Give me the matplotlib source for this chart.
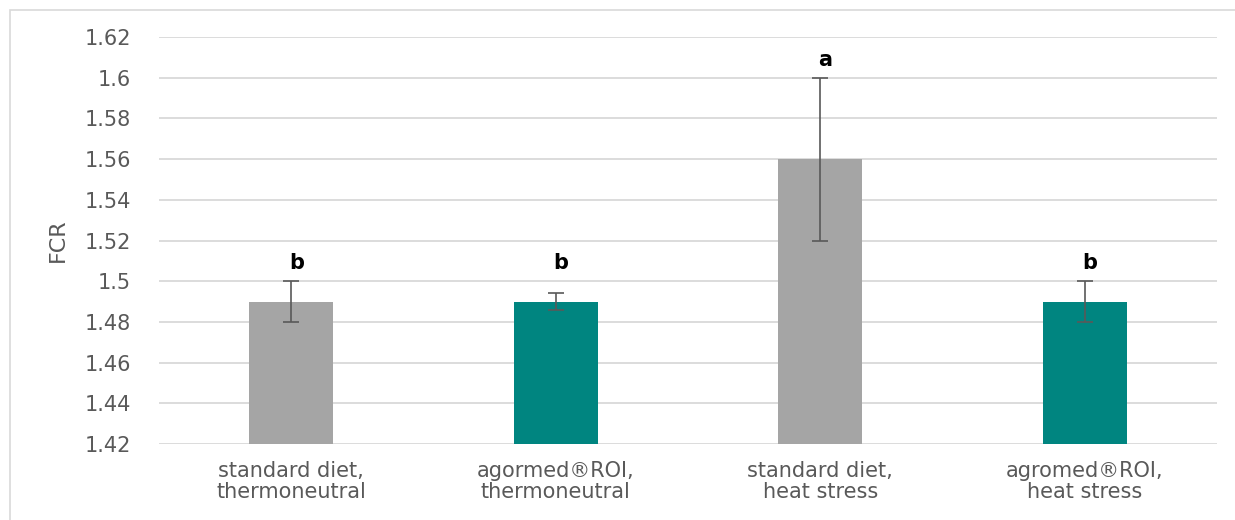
import matplotlib.pyplot as plt
from matplotlib.patches import Rectangle

categories = ["standard diet,\nthermoneutral", "agormed®ROI,\nthermoneutral",
              "standard diet,\nheat stress", "agromed®ROI,\nheat stress"]
fcr = [1.49, 1.49, 1.56, 1.49]
err = [0.01, 0.004, 0.04, 0.01]
letters = ["b", "b", "a", "b"]
colors = ["#A5A5A5", "#008580", "#A5A5A5", "#008580"]
yticks = [1.42, 1.44, 1.46, 1.48, 1.5, 1.52, 1.54, 1.56, 1.58, 1.6, 1.62]
ytick_labels = ["1.42", "1.44", "1.46", "1.48", "1.5", "1.52", "1.54", "1.56", "1.58", "1.6", "1.62"]

plt.rcParams["font.family"] = ["DejaVu Sans"]

fig = plt.figure(figsize=(12.35, 5.2), dpi=100)
fig.patches.append(Rectangle((10 / 1235, -0.05), 1.0, 1.05 - 10 / 520, transform=fig.transFigure,
                             fill=False, edgecolor="#D9D9D9", linewidth=1.2))
ax = fig.add_axes([159 / 1235, 1 - 444 / 520, (1217 - 159) / 1235, (444 - 37) / 520])

x = range(len(categories))
ax.bar(x, fcr, width=0.318, color=colors, zorder=3,
       yerr=err, error_kw=dict(ecolor="#595959", elinewidth=1.2, capsize=6, capthick=1.2, zorder=4))

for i, (v, e, t) in enumerate(zip(fcr, err, letters)):
    ax.text(i + 0.02, v + max(e, 0.01) + 0.004, t, ha="center", va="bottom",
            fontsize=15, fontweight="semibold", color="black")

ax.set_ylim(1.42, 1.62)
ax.set_xlim(-0.5, 3.5)
ax.set_yticks(yticks)
ax.set_yticklabels(ytick_labels)
ax.set_xticks(list(x))
ax.set_xticklabels(categories, linespacing=1.1)
ax.tick_params(axis="y", length=0, pad=20, labelsize=15, labelcolor="#595959")
ax.tick_params(axis="x", length=0, pad=12, labelsize=15, labelcolor="#595959")
ax.yaxis.grid(True, color="#D9D9D9", linewidth=1.3, zorder=0)
ax.set_axisbelow(True)
for s in ax.spines.values():
    s.set_visible(False)
ax.set_ylabel("FCR", fontsize=16, color="#595959", labelpad=12)

fig.savefig("out.png", dpi=100)
